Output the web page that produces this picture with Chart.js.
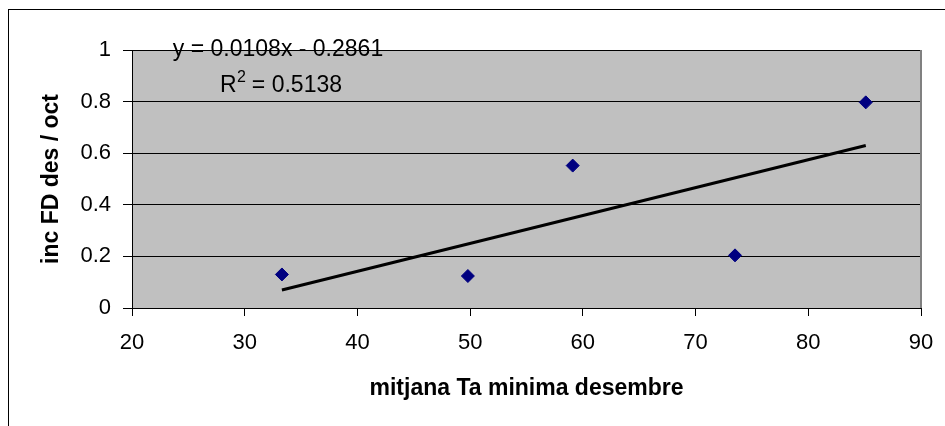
<!DOCTYPE html>
<html>
<head>
<meta charset="utf-8">
<script src="https://cdn.jsdelivr.net/npm/chart.js@4/dist/chart.umd.min.js"></script>
<style>
  html, body { margin: 0; padding: 0; background: #ffffff; }
  #wrap { width: 945px; height: 426px; position: relative; }
</style>
</head>
<body>
<div id="wrap"><canvas id="c" width="945" height="426"></canvas></div>
<script>
// ---- data ----
const xValues = [33.3, 49.8, 59.1, 73.5, 85.1];
const yValues = [0.13, 0.124, 0.552, 0.204, 0.797];
const trendX = [33.3, 85.1];
const trendY = [0.07, 0.63];
const xTicks = [20, 30, 40, 50, 60, 70, 80, 90];
const yTicks = [0, 0.2, 0.4, 0.6, 0.8, 1];
const xTitle = 'mitjana Ta minima desembre';
const yTitle = 'inc FD des / oct';
const eqLine1 = 'y = 0.0108x - 0.2861';
const eqR = 'R';
const eqSup = '2';
const eqRest = ' = 0.5138';

const FONT = '"Liberation Sans", Arial, sans-serif';

const points = xValues.map((x, i) => ({ x: x, y: yValues[i] }));
const trend = trendX.map((x, i) => ({ x: x, y: trendY[i] }));

const decorPlugin = {
  id: 'decor',
  beforeDraw(chart) {
    const { ctx, chartArea: a } = chart;
    ctx.save();
    ctx.fillStyle = '#C0C0C0';
    ctx.fillRect(a.left, a.top, a.right - a.left, a.bottom - a.top);
    ctx.restore();
  },
  afterDatasetsDraw(chart) {
    const { ctx, chartArea: a } = chart;
    ctx.save();
    // right border of plot area
    ctx.strokeStyle = '#808080';
    ctx.lineWidth = 2;
    ctx.beginPath();
    ctx.moveTo(a.right, a.top);
    ctx.lineTo(a.right, a.bottom);
    ctx.stroke();
    // equation labels
    ctx.fillStyle = '#000000';
    ctx.font = '23px ' + FONT;
    ctx.textAlign = 'center';
    ctx.textBaseline = 'middle';
    ctx.fillText(eqLine1, 278, 50);
    // R² line with a real superscript
    const big = '23px ' + FONT, small = '16px ' + FONT;
    ctx.font = big;
    const wR = ctx.measureText(eqR).width;
    const wRest = ctx.measureText(eqRest).width;
    ctx.font = small;
    const wS = ctx.measureText(eqSup).width;
    let x0 = 281 - (wR + wS + wRest) / 2;
    ctx.textAlign = 'left';
    ctx.font = big;
    ctx.fillText(eqR, x0, 86);
    ctx.font = small;
    ctx.fillText(eqSup, x0 + wR + 0.5, 78);
    ctx.font = big;
    ctx.fillText(eqRest, x0 + wR + wS, 86);
    // outer chart border
    ctx.strokeStyle = '#000000';
    ctx.lineWidth = 1;
    ctx.strokeRect(8.5, 9.5, 960, 440);
    ctx.restore();
  }
};

new Chart(document.getElementById('c'), {
  type: 'scatter',
  data: {
    datasets: [
      {
        label: 'data',
        data: points,
        pointStyle: 'rectRot',
        pointRadius: 6.5,
        pointBackgroundColor: '#000080',
        pointBorderColor: '#000080',
        pointBorderWidth: 1,
        showLine: false,
        order: 1
      },
      {
        label: 'trend',
        data: trend,
        showLine: true,
        borderColor: '#000000',
        borderWidth: 3,
        pointRadius: 0,
        fill: false,
        order: 2
      }
    ]
  },
  options: {
    responsive: false,
    animation: false,
    devicePixelRatio: 1,
    layout: { padding: { left: 0, top: 50, right: 24, bottom: 0 } },
    plugins: {
      legend: { display: false },
      tooltip: { enabled: false },
      title: { display: false }
    },
    scales: {
      x: {
        type: 'linear',
        min: xTicks[0],
        max: xTicks[xTicks.length - 1],
        afterBuildTicks(scale) { scale.ticks = xTicks.map(v => ({ value: v })); },
        afterFit(scale) { scale.height = 118; scale.paddingRight = 0; scale.paddingLeft = 0; },
        ticks: {
          color: '#000000',
          font: { family: FONT, size: 22 },
          padding: 14,
          maxRotation: 0,
          autoSkip: false
        },
        grid: {
          drawOnChartArea: false,
          drawTicks: true,
          tickLength: 8,
          color: '#000000',
          lineWidth: 1
        },
        border: { display: true, color: '#000000', width: 1 },
        title: {
          display: true,
          text: xTitle,
          color: '#000000',
          font: { family: FONT, size: 23, weight: 'bold' },
          padding: { top: 0, bottom: 24 }
        }
      },
      y: {
        type: 'linear',
        min: yTicks[0],
        max: yTicks[yTicks.length - 1],
        afterBuildTicks(scale) { scale.ticks = yTicks.map(v => ({ value: v })); },
        afterFit(scale) { scale.width = 132; },
        ticks: {
          color: '#000000',
          font: { family: FONT, size: 22 },
          padding: 12,
          autoSkip: false,
          callback: v => String(v)
        },
        grid: {
          drawOnChartArea: true,
          drawTicks: true,
          tickLength: 9,
          color: '#000000',
          lineWidth: 1
        },
        border: { display: true, color: '#000000', width: 1 },
        title: {
          display: true,
          text: yTitle,
          color: '#000000',
          font: { family: FONT, size: 23, weight: 'bold' },
          padding: { top: 38, bottom: 0 }
        }
      }
    }
  },
  plugins: [decorPlugin]
});
</script>
</body>
</html>
